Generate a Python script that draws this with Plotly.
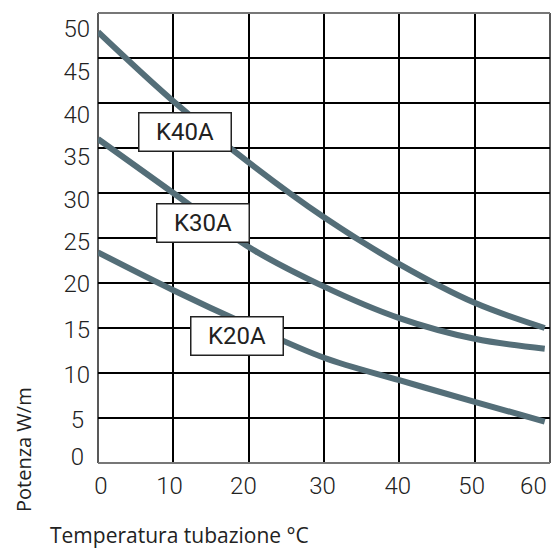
import plotly.graph_objects as go

# ---- Data ----
k40_x = [0, 10, 20, 30, 40, 50, 59.3]
k40_y = [47.9, 40.2, 33.4, 27.3, 22.1, 17.8, 15.0]
k30_x = [0, 10, 20, 30, 40, 50, 59.3]
k30_y = [36.0, 30.0, 24.0, 19.6, 16.1, 13.8, 12.7]
k20_x = [0, 10, 20, 30, 40, 50, 59.3]
k20_y = [23.4, 19.2, 15.3, 11.7, 9.2, 6.8, 4.6]

series_names = ["K40A", "K30A", "K20A"]

x_grid = [0, 10, 20, 30, 40, 50, 60]
x_ticktext = ["0", "10", "20", "30", "40", "50", "60"]
y_grid = [0, 5, 10, 15, 20, 25, 30, 35, 40, 45, 50]
y_ticktext = ["0\u00a0", "5\u00a0", "10", "15", "20", "25", "30", "35", "40", "45", "50"]

x_title = "Temperatura tubazione °C"
y_title = "Potenza W/m"

# ---- Layout constants (label placement as printed in the original) ----
x_label_pos = [0.4, 9.5, 19.3, 29.8, 39.8, 49.6, 57.8]
y_label_pos = [0.72, 4.83, 9.83, 14.83, 19.89, 24.56, 29.22, 34.04, 38.71, 43.49, 48.27]
box_x = [11.6, 13.9, 18.5]
box_y = [36.8, 26.7, 14.06]

line_color = "#546e78"
ink = "#222"

fig = go.Figure()
for xs, ys, name in [(k40_x, k40_y, "K40A"), (k30_x, k30_y, "K30A"), (k20_x, k20_y, "K20A")]:
    fig.add_trace(go.Scatter(x=xs, y=ys, mode="lines", name=name,
                             line=dict(color=line_color, width=6, shape="spline", smoothing=1.0),
                             showlegend=False, hoverinfo="skip"))
# invisible trace to activate the label axes
fig.add_trace(go.Scatter(x=[None], y=[None], xaxis="x2", yaxis="y2",
                         showlegend=False, hoverinfo="skip"))

tick_font = dict(family="Roboto", size=24, color=ink, weight=300)

fig.update_layout(
    width=552, height=549,
    margin=dict(l=98, r=2, t=13, b=86),
    paper_bgcolor="white", plot_bgcolor="white",
    xaxis=dict(range=[0, 60], tickvals=x_grid, showticklabels=False,
               showgrid=True, gridcolor="black", gridwidth=1.5,
               zeroline=False, showline=False, ticks="", automargin=False,
               fixedrange=True),
    yaxis=dict(range=[0, 50], tickvals=y_grid, showticklabels=False,
               showgrid=True, gridcolor="black", gridwidth=1.5,
               zeroline=False, showline=False, ticks="", automargin=False,
               fixedrange=True),
    xaxis2=dict(range=[0, 60], overlaying="x", anchor="y2", side="bottom",
                tickvals=x_label_pos, ticktext=x_ticktext, tickfont=tick_font,
                showgrid=False, zeroline=False, showline=False, ticks="",
                ticklabelstandoff=6, ticklabeloverflow="allow", automargin=False,
                fixedrange=True),
    yaxis2=dict(range=[0, 50], overlaying="y", anchor="x2", side="left",
                tickvals=y_label_pos, ticktext=y_ticktext, tickfont=tick_font,
                showgrid=False, zeroline=False, showline=False, ticks="",
                ticklabelstandoff=7, ticklabeloverflow="allow", automargin=False,
                fixedrange=True),
)

# Frame: top and bottom gray, left and right black
fig.add_shape(type="line", xref="paper", yref="paper", x0=0, x1=1, y0=1, y1=1,
              line=dict(color="#777", width=2), layer="above")
fig.add_shape(type="line", xref="paper", yref="paper", x0=0, x1=1, y0=0, y1=0,
              line=dict(color="#777", width=2), layer="above")
fig.add_shape(type="line", xref="paper", yref="paper", x0=0, x1=0, y0=0, y1=1,
              line=dict(color=ink, width=1.5), layer="below")
fig.add_shape(type="line", xref="paper", yref="paper", x0=1, x1=1, y0=0, y1=1,
              line=dict(color=ink, width=1.5), layer="below")

for name, bx, by in zip(series_names, box_x, box_y):
    fig.add_annotation(x=bx, y=by, xref="x", yref="y", text=name, showarrow=False,
                       bgcolor="white", bordercolor=ink, borderwidth=1.5, borderpad=1,
                       width=89, height=35,
                       font=dict(family="Roboto", size=24, color=ink))

fig.add_annotation(x=-0.1637, y=0.0289, xref="paper", yref="paper", text=y_title,
                   showarrow=False, textangle=-90, xanchor="center", yanchor="middle",
                   font=dict(family="Open Sans", size=20, color=ink))
fig.add_annotation(x=-0.1106, y=-0.16, xref="paper", yref="paper", text=x_title,
                   showarrow=False, xanchor="left", yanchor="middle",
                   font=dict(family="Open Sans", size=21, color=ink))

fig.write_html("out.html", config={"displayModeBar": False},
               post_script="document.body.style.margin='0';document.body.style.overflow='hidden';")
